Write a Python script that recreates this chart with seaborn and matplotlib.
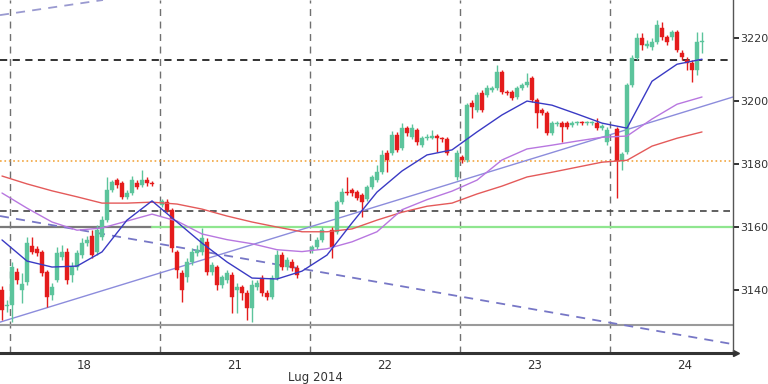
import numpy as np
import pandas as pd
import matplotlib
matplotlib.use("Agg")
import matplotlib.pyplot as plt
import seaborn as sns

nan = np.nan

# 30-min candles, one slot per bar (NaN = empty slot)
opens = [3140.1, 3135.0, 3135.3, 3145.8, 3140.1, 3142.6, 3154.1, 3153.1, 3152.2, 3145.8,
         3138.5, 3143.3, 3150.6, 3152.2, 3144.9, 3147.4, 3151.2, 3155.0, 3157.2, 3152.2,
         3156.9, 3162.3, 3171.8, 3175.0, 3174.1, 3169.6, 3170.9, 3174.1, 3173.4, 3175.0,
         3174.1, nan,
         3167.1, 3168.0, 3165.5, 3152.2, 3145.5, 3144.2, 3149.0, 3151.8, 3152.2, 3155.3,
         3145.8, 3147.4, 3141.7, 3143.3, 3144.9, 3140.1, 3141.1, 3139.2, 3134.4, 3141.1,
         3143.9, 3139.2, 3137.9, 3143.9, 3151.2, 3147.4, 3149.0, 3147.1, nan, nan,
         3152.8, 3153.7, 3156.0, nan, 3159.1, 3158.5, 3168.0, 3171.2, 3171.8, 3171.2,
         3170.3, 3169.0, 3172.8, 3175.0, 3177.6, 3183.6, 3183.6, 3189.3, 3185.2, 3191.5,
         3188.7, 3190.9, 3186.1, 3188.4, 3188.4, 3189.0, 3188.0, 3188.0, nan, 3176.0,
         3182.3, 3181.4, 3199.5, 3197.3, 3202.6, 3202.0, 3203.6, 3204.2, 3209.3, 3203.0,
         3203.0, 3201.4, 3204.2, 3205.2, 3207.4, 3200.4, 3197.3, 3196.3, 3189.9, 3192.8,
         3193.1, 3193.1, 3192.5, 3193.0, 3193.1, 3193.0, 3193.1, 3193.1, 3191.5, 3187.1,
         nan, 3191.2, 3181.0, 3183.9, 3205.2, 3213.8, 3220.1, 3217.6, 3217.2, 3218.8,
         3223.3, 3220.4, 3220.4, 3222.0, 3215.3, 3213.1, 3212.2, 3209.9, 3218.8]

highs = [3141.4, 3136.9, 3149.0, 3147.1, 3145.5, 3156.9, 3156.9, 3154.1, 3152.8, 3146.4,
         3142.3, 3153.7, 3154.4, 3153.4, 3149.0, 3152.8, 3156.6, 3157.2, 3159.1, 3160.7,
         3163.6, 3176.0, 3175.0, 3175.7, 3174.7, 3171.8, 3176.3, 3175.0, 3178.2, 3176.0,
         3174.7, nan,
         3169.0, 3169.0, 3166.1, 3152.8, 3146.4, 3150.3, 3153.4, 3154.4, 3159.8, 3156.6,
         3149.0, 3148.0, 3144.9, 3146.4, 3145.8, 3142.3, 3141.7, 3140.1, 3143.3, 3143.3,
         3144.9, 3140.1, 3144.9, 3152.8, 3152.2, 3150.6, 3149.9, 3148.0, nan, nan,
         3154.4, 3156.9, 3160.1, nan, 3160.1, 3168.7, 3172.5, 3176.0, 3172.5, 3171.8,
         3170.9, 3173.4, 3176.6, 3179.8, 3184.5, 3184.5, 3190.6, 3190.3, 3193.1, 3192.2,
         3192.8, 3191.5, 3189.0, 3189.6, 3190.9, 3189.6, 3188.8, 3188.7, nan, 3184.5,
         3182.9, 3199.5, 3200.4, 3203.0, 3203.6, 3205.2, 3204.9, 3211.5, 3209.9, 3203.6,
         3203.6, 3204.9, 3205.8, 3209.0, 3208.0, 3201.0, 3197.9, 3196.9, 3193.7, 3193.7,
         3193.7, 3193.7, 3193.7, 3193.7, 3193.7, 3193.7, 3193.9, 3194.7, 3192.8, 3191.8,
         nan, 3191.8, 3183.9, 3205.8, 3214.7, 3221.7, 3221.7, 3219.5, 3220.1, 3225.8,
         3225.2, 3221.0, 3222.6, 3222.6, 3216.3, 3214.1, 3213.1, 3222.0, 3222.0]

lows = [3130.6, 3133.1, 3129.9, 3142.0, 3136.0, 3141.7, 3151.5, 3150.9, 3144.5, 3134.7,
        3136.9, 3142.6, 3149.6, 3142.0, 3142.6, 3146.4, 3150.3, 3154.1, 3150.3, 3151.2,
        3156.0, 3161.7, 3171.2, 3172.5, 3169.0, 3169.0, 3170.3, 3172.2, 3172.8, 3173.1,
        3173.1, nan,
        3166.4, 3164.9, 3152.2, 3143.9, 3136.3, 3142.6, 3148.0, 3150.9, 3151.2, 3144.9,
        3144.9, 3140.1, 3140.7, 3142.3, 3132.8, 3132.8, 3136.9, 3130.6, 3129.9, 3140.1,
        3138.2, 3136.9, 3137.2, 3143.3, 3146.4, 3146.4, 3146.1, 3143.9, nan, nan,
        3151.8, 3153.1, 3155.3, nan, 3150.3, 3157.9, 3167.4, 3170.3, 3169.9, 3168.7,
        3163.3, 3168.3, 3172.2, 3174.4, 3176.9, 3177.6, 3182.9, 3183.9, 3184.5, 3189.0,
        3188.0, 3186.1, 3185.5, 3187.7, 3188.0, 3183.9, 3187.2, 3182.9, nan, 3175.0,
        3180.4, 3180.7, 3194.7, 3196.6, 3196.6, 3201.4, 3203.0, 3203.6, 3202.3, 3202.0,
        3200.4, 3200.7, 3203.6, 3204.5, 3199.8, 3191.5, 3195.7, 3189.3, 3189.3, 3192.2,
        3187.1, 3191.2, 3191.8, 3192.5, 3192.5, 3192.5, 3192.5, 3190.9, 3190.9, 3186.1,
        nan, 3169.3, 3178.2, 3183.3, 3204.5, 3213.1, 3216.3, 3216.9, 3216.3, 3218.2,
        3219.5, 3217.9, 3219.5, 3215.6, 3213.1, 3209.9, 3206.1, 3208.4, 3215.3]

closes = [3133.7, 3135.3, 3147.4, 3143.3, 3142.0, 3155.0, 3152.2, 3151.8, 3145.5, 3137.9,
          3141.1, 3151.8, 3152.2, 3143.3, 3147.4, 3151.8, 3155.0, 3156.0, 3151.2, 3159.1,
          3162.3, 3171.8, 3174.4, 3173.4, 3169.6, 3170.9, 3175.0, 3172.8, 3175.0, 3174.1,
          3173.8, nan,
          3168.3, 3165.5, 3153.4, 3146.4, 3140.1, 3149.0, 3152.2, 3152.8, 3156.6, 3145.8,
          3148.0, 3141.7, 3144.2, 3145.5, 3137.9, 3141.1, 3139.2, 3134.4, 3141.7, 3142.3,
          3139.2, 3137.9, 3143.9, 3151.2, 3147.4, 3149.6, 3147.1, 3144.9, nan, nan,
          3153.7, 3156.0, 3159.1, nan, 3153.7, 3168.0, 3171.2, 3170.9, 3170.9, 3169.3,
          3168.0, 3172.8, 3176.0, 3177.6, 3182.9, 3181.4, 3189.3, 3184.5, 3191.5, 3189.9,
          3191.5, 3187.1, 3188.4, 3188.7, 3189.0, 3188.4, 3187.9, 3183.6, nan, 3183.6,
          3181.4, 3198.8, 3198.2, 3202.0, 3197.3, 3204.2, 3204.2, 3209.3, 3203.0, 3202.6,
          3201.0, 3204.2, 3205.2, 3206.1, 3200.4, 3196.3, 3196.3, 3189.9, 3193.1, 3193.1,
          3191.8, 3191.8, 3193.1, 3193.1, 3193.0, 3193.1, 3193.2, 3191.5, 3192.2, 3190.9,
          nan, 3181.0, 3183.3, 3205.2, 3213.8, 3220.1, 3217.9, 3218.2, 3218.8, 3224.2,
          3220.4, 3218.8, 3222.0, 3216.3, 3214.1, 3212.2, 3209.9, 3218.8, 3219.1]

# moving averages read every 5 bars
ma_idx = list(range(0, 141, 5))
ma_fast = [3156.0, 3149.3, 3147.4, 3147.7, 3152.2, 3162.3, 3168.4, 3161.7, 3155.0, 3149.0,
           3143.9, 3143.6, 3146.1, 3151.2, 3161.4, 3171.2, 3177.9, 3183.0, 3184.6, 3190.3,
           3195.7, 3200.1, 3198.8, 3196.0, 3193.1, 3191.5, 3206.4, 3211.8, 3213.4]
ma_mid = [3170.9, 3166.1, 3161.7, 3159.1, 3159.8, 3162.0, 3164.2, 3162.0, 3157.9, 3156.1,
          3154.8, 3152.9, 3152.3, 3153.2, 3155.4, 3158.6, 3165.6, 3168.8, 3171.5, 3175.0,
          3181.4, 3184.9, 3186.1, 3187.4, 3188.6, 3189.0, 3194.4, 3199.1, 3201.4]
ma_slow = [3176.3, 3173.8, 3171.6, 3169.7, 3167.7, 3167.7, 3168.0, 3167.4, 3165.8, 3163.6,
           3161.7, 3160.1, 3158.6, 3158.6, 3159.5, 3162.3, 3164.8, 3166.7, 3167.7, 3170.6,
           3173.1, 3176.0, 3177.5, 3179.1, 3180.7, 3181.3, 3185.8, 3188.3, 3190.3]

day_labels = ["18", "21", "22", "23", "24"]
day_centers = [16.5, 46.5, 76.5, 106.5, 136.5]
day_breaks = [1.5, 31.5, 61.5, 91.5, 121.5]
month_label = "Lug 2014"

yticks = [3140, 3160, 3180, 3200, 3220]
resist = 3213.3
pivot = 3181.2
support1 = 3165.3
support2 = 3160.1
support3 = 3129.0

trend_up = ([-0.4, 146.2], [3129.9, 3201.4])
trend_down = ([-0.4, 146.2], [3163.6, 3122.9])
trend_top = ([-0.4, 20.2], [3227.4, 3232.2])

sns.set_theme(style="white")
plt.rcParams["font.family"] = ["DejaVu Sans"]

fig = plt.figure(figsize=(7.68, 3.84), dpi=100)
ax = fig.add_axes([0, 1 - 353 / 384, 733 / 768, 353 / 384])
ax.set_xlim(-0.4, 146.2)
ax.set_ylim(3120.1, 3232.2)

for b in day_breaks:
    ax.axvline(b, color="#707070", ls=(0, (5, 4)), lw=1, zorder=1)

ax.axhline(resist, color="#222222", ls=(0, (4, 3)), lw=1.3, zorder=2)
ax.axhline(pivot, color="#f2a640", ls=":", lw=1.2, zorder=2)
ax.axhline(support1, color="#444444", ls=(0, (4, 3)), lw=1.2, zorder=2)
ax.plot([-0.4, 30], [support2, support2], color="#7a7a7a", lw=1.6, zorder=2)
ax.plot([30, 146.2], [support2, support2], color="#8fe68f", lw=1.6, zorder=2)
ax.axhline(support3, color="#9a9a9a", lw=1.5, zorder=2)

ax.plot(*trend_up, color="#8c8cdc", lw=1, zorder=2)
ax.plot(*trend_down, color="#7777c6", ls=(0, (5, 4)), lw=1.3, zorder=2)
ax.plot(*trend_top, color="#9a9ad0", ls=(0, (5, 4)), lw=1.3, zorder=2)

bars = pd.DataFrame({"o": opens, "h": highs, "l": lows, "c": closes})
bars["x"] = np.arange(len(bars))
bars = bars.dropna()
up = bars[bars.c >= bars.o]
dn = bars[bars.c < bars.o]
for part, col in [(up, "#5cc49c"), (dn, "#e41c1c")]:
    ax.vlines(part.x, part.l, part.h, color=col, lw=1, zorder=3)
    body = np.maximum((part.c - part.o).abs(), 0.35)
    ax.bar(part.x, body, bottom=np.minimum(part.o, part.c), width=0.8,
           color=col, edgecolor=col, lw=0.3, zorder=3)

ma = pd.DataFrame({"idx": ma_idx, "fast": ma_fast, "mid": ma_mid, "slow": ma_slow})
sns.lineplot(data=ma, x="idx", y="slow", ax=ax, color="#e45a5a", lw=1, zorder=4)
sns.lineplot(data=ma, x="idx", y="mid", ax=ax, color="#b877e0", lw=1, zorder=4)
sns.lineplot(data=ma, x="idx", y="fast", ax=ax, color="#3a3ac4", lw=1, zorder=4)

for s in ["top", "left"]:
    ax.spines[s].set_visible(False)
ax.spines["right"].set_color("#555555")
ax.spines["right"].set_linewidth(1)
ax.spines["bottom"].set_color("#333333")
ax.spines["bottom"].set_linewidth(2.2)
ax.plot(1.004, 0, marker=">", ms=5, color="#333333", transform=ax.transAxes, clip_on=False)

ax.yaxis.tick_right()
ax.set_yticks(yticks)
ax.set_yticklabels([str(t) for t in yticks])
ax.tick_params(axis="y", direction="out", length=4, width=1.4, color="#333333",
               labelsize=8, labelcolor="#333333", pad=1)
ax.set_xticks(day_centers)
ax.set_xticklabels(day_labels)
ax.tick_params(axis="x", length=0, labelsize=8.5, labelcolor="#333333", pad=4)
ax.set_xlabel("")
ax.set_ylabel("")
fig.text(315 / 768, 1 - 378 / 384, month_label, ha="center", va="center",
         fontsize=8.5, color="#333333")

fig.savefig("out.png", dpi=100, facecolor="white")
